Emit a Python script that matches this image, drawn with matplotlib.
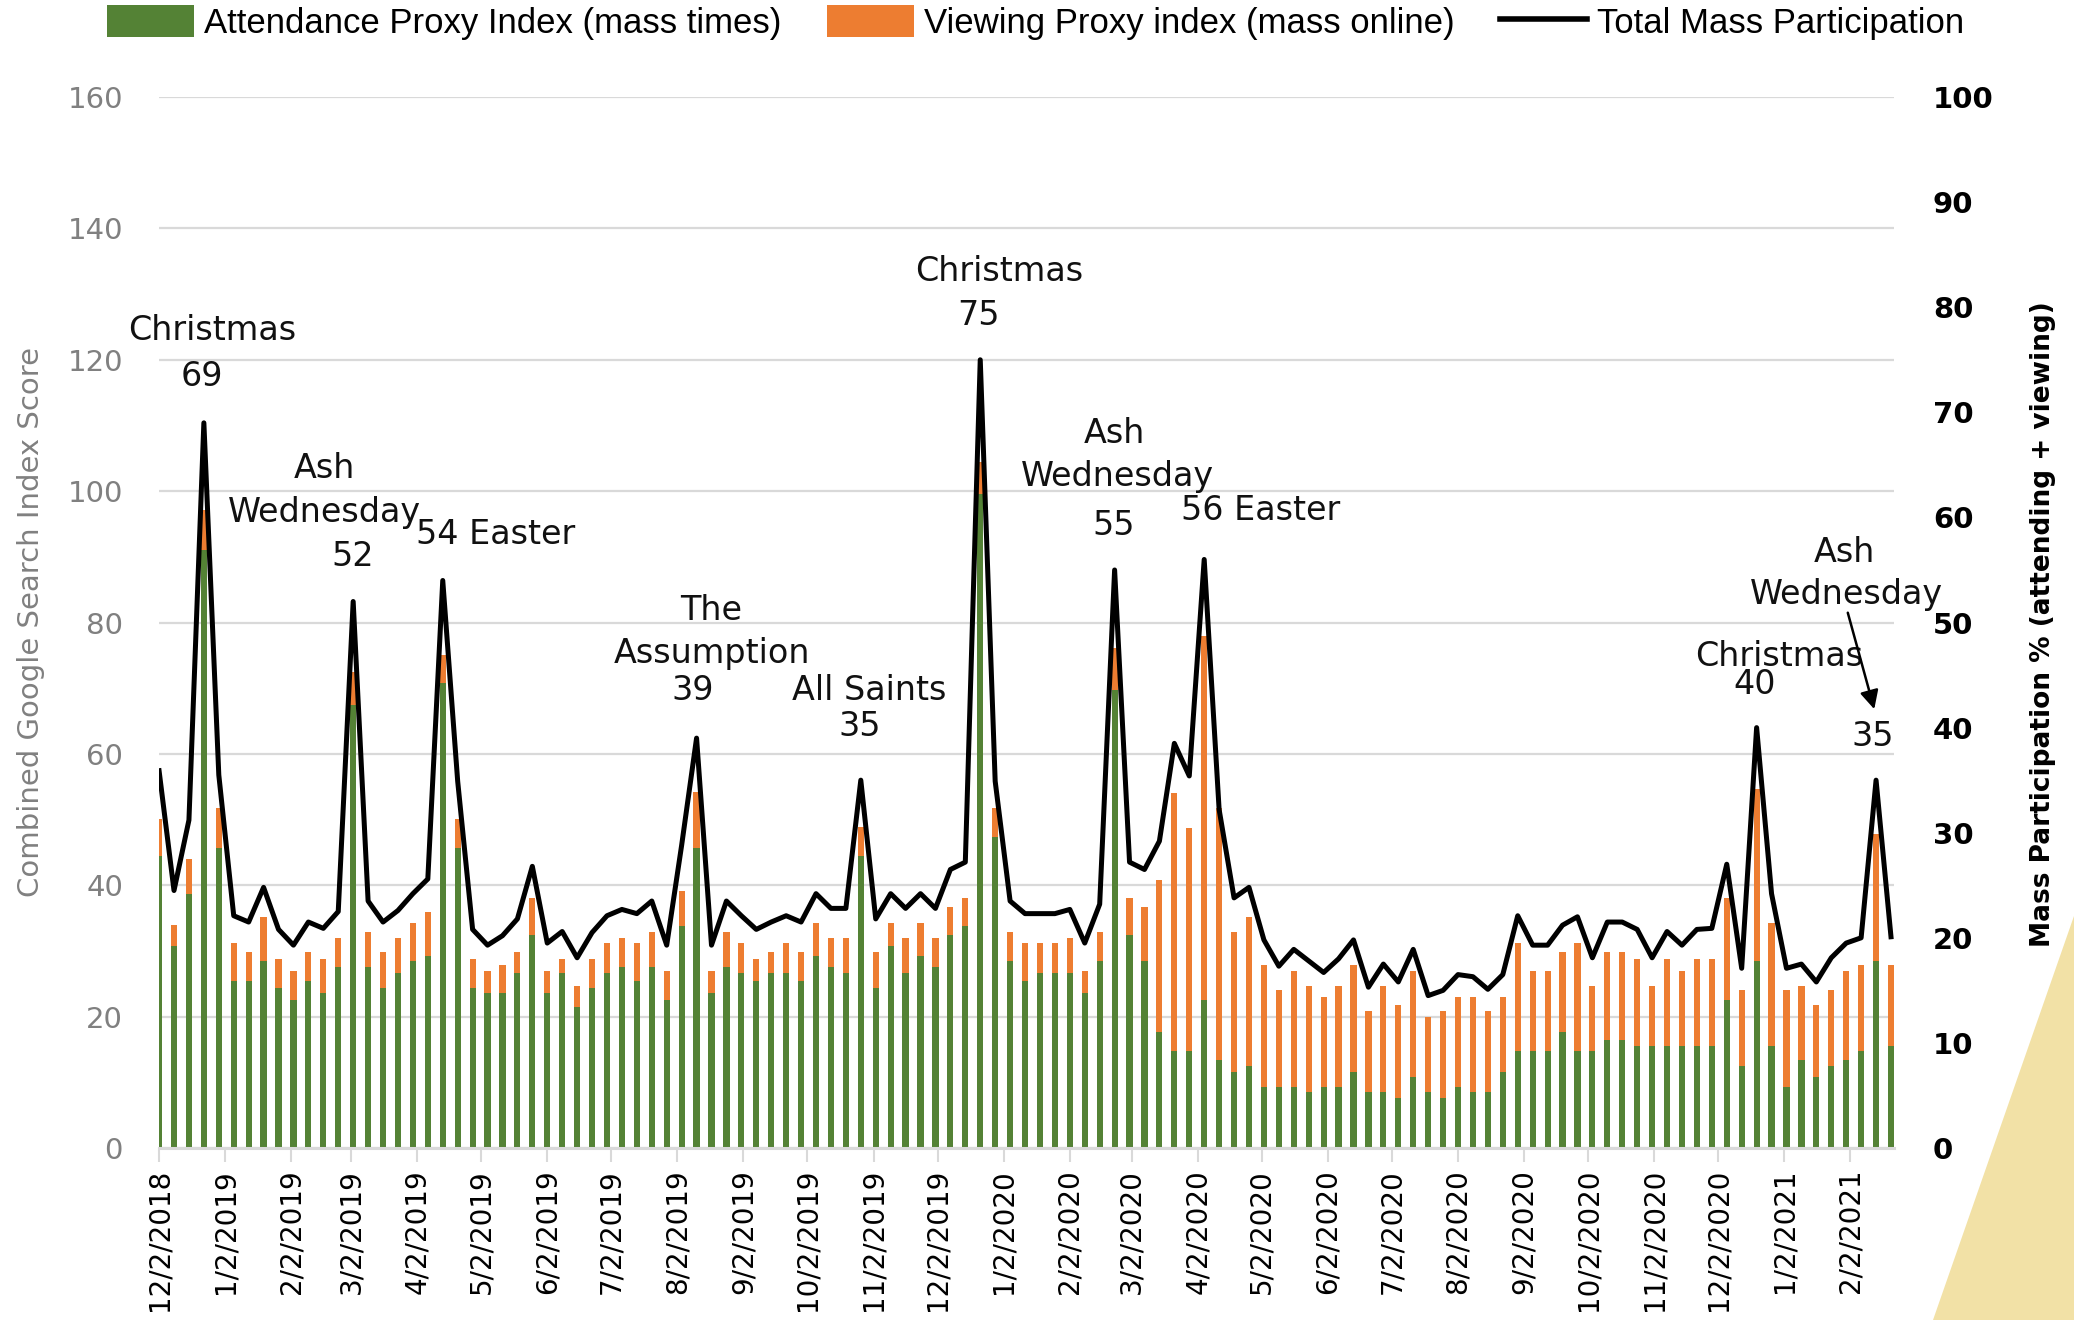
import numpy as np
import matplotlib.pyplot as plt
from matplotlib.patches import Patch, Polygon
from matplotlib.lines import Line2D

# weekly Google Trends data, first week starting 12/2/2018
start = np.datetime64("2018-12-02")

attendance = [
    44.5, 30.7, 38.7, 91.0, 45.6, 25.5, 25.5, 28.4, 24.4, 22.6,
    25.5, 23.6, 27.5, 67.5, 27.5, 24.4, 26.7, 28.4, 29.3, 70.8,
    45.6, 24.4, 23.6, 23.6, 26.7, 32.4, 23.6, 26.7, 21.5, 24.4,
    26.7, 27.5, 25.5, 27.5, 22.6, 33.8, 45.6, 23.6, 27.5, 26.7,
    25.5, 26.7, 26.7, 25.5, 29.3, 27.5, 26.7, 44.5, 24.4, 30.7,
    26.7, 29.3, 27.5, 32.4, 33.8, 99.6, 47.4, 28.4, 25.5, 26.7,
    26.7, 26.7, 23.6, 28.4, 69.7, 32.4, 28.4, 17.6, 14.7, 14.7,
    22.6, 13.4, 11.6, 12.5, 9.3, 9.3, 9.3, 8.6, 9.3, 9.3,
    11.6, 8.6, 8.6, 7.6, 10.8, 8.6, 7.6, 9.3, 8.6, 8.6,
    11.6, 14.7, 14.7, 14.7, 17.6, 14.7, 14.7, 16.5, 16.5, 15.5,
    15.5, 15.5, 15.5, 15.5, 15.5, 22.6, 12.5, 28.4, 15.5, 9.3,
    13.4, 10.8, 12.5, 13.4, 14.7, 28.4, 15.5,
]

viewing = [
    5.6, 3.3, 5.3, 6.1, 6.2, 5.7, 4.3, 6.7, 4.4, 4.4,
    4.3, 5.2, 4.5, 4.9, 5.4, 5.4, 5.3, 5.8, 6.6, 4.3,
    4.5, 4.4, 3.4, 4.3, 3.1, 5.7, 3.4, 2.1, 3.2, 4.4,
    4.5, 4.5, 5.7, 5.4, 4.4, 5.4, 8.6, 3.4, 5.4, 4.5,
    3.3, 3.1, 4.5, 4.3, 4.9, 4.5, 5.3, 4.3, 5.4, 3.5,
    5.3, 4.9, 4.5, 4.3, 4.3, 4.9, 4.4, 4.5, 5.7, 4.5,
    4.5, 5.3, 3.4, 4.5, 6.4, 5.7, 8.3, 23.2, 39.4, 34.0,
    55.3, 38.4, 21.3, 22.6, 18.6, 14.7, 17.7, 16.1, 13.7, 15.4,
    16.3, 12.3, 16.1, 14.1, 16.2, 11.4, 13.3, 13.7, 14.4, 12.3,
    11.4, 16.5, 12.3, 12.3, 12.2, 16.5, 10.0, 13.3, 13.3, 13.3,
    9.2, 13.3, 11.5, 13.3, 13.3, 15.5, 11.5, 26.3, 18.7, 14.7,
    11.3, 10.9, 11.5, 13.6, 13.2, 19.4, 12.4,
]

participation = [
    35.9, 24.5, 31.2, 69.0, 35.5, 22.1, 21.5, 24.8, 20.8, 19.3,
    21.5, 20.9, 22.5, 52.0, 23.5, 21.5, 22.6, 24.2, 25.6, 54.0,
    34.9, 20.8, 19.3, 20.2, 21.8, 26.8, 19.5, 20.6, 18.1, 20.5,
    22.1, 22.7, 22.3, 23.5, 19.3, 28.8, 39.0, 19.3, 23.5, 22.1,
    20.8, 21.5, 22.1, 21.5, 24.2, 22.8, 22.8, 35.0, 21.8, 24.2,
    22.8, 24.2, 22.8, 26.5, 27.2, 75.0, 34.9, 23.5, 22.3, 22.3,
    22.3, 22.7, 19.5, 23.2, 55.0, 27.2, 26.5, 29.2, 38.5, 35.4,
    56.0, 32.2, 23.8, 24.8, 19.8, 17.3, 18.9, 17.8, 16.7, 18.0,
    19.8, 15.3, 17.5, 15.8, 18.9, 14.5, 15.0, 16.5, 16.3, 15.1,
    16.5, 22.1, 19.3, 19.3, 21.2, 22.0, 18.1, 21.5, 21.5, 20.8,
    18.1, 20.6, 19.3, 20.8, 20.9, 27.0, 17.1, 40.0, 24.2, 17.1,
    17.5, 15.8, 18.1, 19.5, 20.0, 35.0, 20.1,
]

tick_labels = [
    "12/2/2018", "1/2/2019", "2/2/2019", "3/2/2019", "4/2/2019", "5/2/2019",
    "6/2/2019", "7/2/2019", "8/2/2019", "9/2/2019", "10/2/2019", "11/2/2019",
    "12/2/2019", "1/2/2020", "2/2/2020", "3/2/2020", "4/2/2020", "5/2/2020",
    "6/2/2020", "7/2/2020", "8/2/2020", "9/2/2020", "10/2/2020", "11/2/2020",
    "12/2/2020", "1/2/2021", "2/2/2021",
]


def days_since_start(label):
    m, d, y = label.split("/")
    return (np.datetime64(f"{y}-{int(m):02d}-{int(d):02d}") - start).astype(int)


x = np.arange(len(attendance)) * 7
tick_pos = [days_since_start(t) for t in tick_labels]

GREEN = "#548235"
ORANGE = "#ED7D31"
GRID = "#d9d9d9"
GREY = "#808080"

fig = plt.figure(figsize=(20.74, 13.2), dpi=100)
fig.patch.set_facecolor("white")

# beige corner decoration (bottom right)
fig.add_artist(Polygon([(0.932, 0.0), (1.0, 0.0), (1.0, 0.306)], closed=True,
                       transform=fig.transFigure, facecolor="#F2E1A6",
                       edgecolor="none", zorder=0))

ax = fig.add_axes([0.0767, 0.1303, 0.8365, 0.7962])
ax.set_facecolor("none")
ax.bar(x, attendance, width=2.9, color=GREEN, zorder=2)
ax.bar(x, viewing, width=2.9, bottom=attendance, color=ORANGE, zorder=2)

ax.set_xlim(0, 813.4)
ax.set_ylim(0, 160)
ax.set_yticks(np.arange(0, 161, 20))
ax.yaxis.grid(True, color=GRID, linewidth=1.6)
ax.set_axisbelow(True)
for s in ("left", "right", "top"):
    ax.spines[s].set_visible(False)
ax.spines["bottom"].set_color(GRID)
ax.spines["bottom"].set_linewidth(2.2)
ax.tick_params(axis="y", length=0, labelsize=21, labelcolor=GREY, pad=26)
ax.set_xticks(tick_pos)
ax.set_xticklabels(tick_labels, rotation=90, fontsize=20)
ax.tick_params(axis="x", length=10, width=1.5, color=GRID, pad=5)

ax2 = ax.twinx()
ax2.plot(x, participation, color="black", linewidth=3.6, zorder=3)
ax2.set_ylim(0, 100)
ax2.set_yticks(np.arange(0, 101, 10))
for s in ax2.spines.values():
    s.set_visible(False)
ax2.tick_params(axis="y", length=0, labelsize=21, pad=28)
for lab in ax2.get_yticklabels():
    lab.set_fontweight("bold")
    lab.set_horizontalalignment("left")

# axis titles
fig.text(0.015, 0.529, "Combined Google Search Index Score", rotation=90,
         ha="center", va="center", fontsize=21, color=GREY)
fig.text(0.985, 0.527, "Mass Participation % (attending + viewing)", rotation=90,
         ha="center", va="center", fontsize=19, fontweight="bold")

# event annotations (positions in left-axis data units)
notes = [
    ("Christmas", 24.8, 124.4), ("69", 20.2, 117.5),
    ("Ash", 77.4, 103.5), ("Wednesday", 77.4, 96.8), ("52", 91, 90.0),
    ("54 Easter", 158, 93.4),
    ("The", 259, 81.9), ("Assumption", 259, 75.3), ("39", 250, 69.7),
    ("All Saints", 333, 69.7), ("35", 328.6, 64.2),
    ("Christmas", 394, 133.5), ("75", 384, 126.8),
    ("Ash", 448, 108.7), ("Wednesday", 449.5, 102.3), ("55", 447.6, 94.8),
    ("56 Easter", 516.6, 97.0),
    ("Christmas", 759.5, 74.9), ("40", 748, 70.5),
    ("Ash", 790, 90.7), ("Wednesday", 791, 84.2), ("35", 803.5, 62.6),
]
for txt, tx, ty in notes:
    ax.text(tx, ty, txt, ha="center", va="center", fontsize=24, color="#111111", zorder=5)

ax.annotate("", xy=(804.5, 66.4), xytext=(791.4, 81.9),
            arrowprops=dict(arrowstyle="-|>", color="black", lw=1.8, mutation_scale=28),
            zorder=5)

handles = [
    Patch(facecolor=GREEN, edgecolor="none"),
    Patch(facecolor=ORANGE, edgecolor="none"),
    Line2D([], [], color="black", linewidth=4),
]
labels = [
    "Attendance Proxy Index (mass times)",
    "Viewing Proxy index (mass online)",
    "Total Mass Participation",
]
fig.legend(handles, labels, loc="center", bbox_to_anchor=(0.4994, 0.983), ncol=3,
           frameon=False, prop={"family": "Liberation Sans", "size": 25},
           handlelength=2.5, handleheight=1.05, handletextpad=0.3, columnspacing=1.3)

fig.savefig("out.png", dpi=100, facecolor="white")
